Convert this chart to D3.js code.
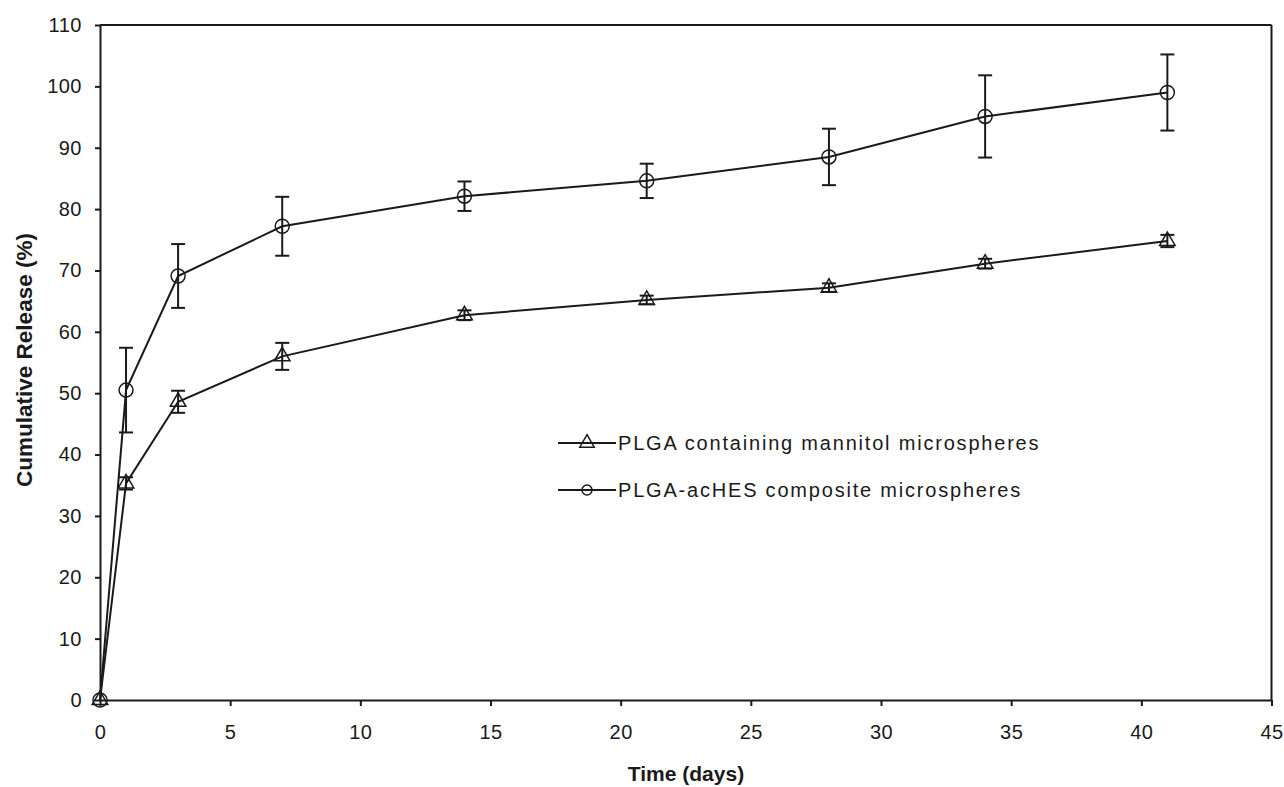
<!DOCTYPE html>
<html><head><meta charset="utf-8">
<script src="https://cdn.jsdelivr.net/npm/d3@7"></script>
<style>body{margin:0;background:#fff}svg{display:block}text{font-family:Arial,"Liberation Sans",sans-serif}</style>
</head><body><svg id="c" width="1284" height="787"></svg>
<script>
const days = [0, 1, 3, 7, 14, 21, 28, 34, 41];
const mannitolValues = [0, 35.3, 48.6, 56.0, 62.7, 65.2, 67.2, 71.1, 74.8];
const mannitolErrors = [0, 1.0, 1.8, 2.2, 0.8, 0.7, 0.7, 0.8, 1.0];
const achesValues = [0, 50.5, 69.1, 77.2, 82.1, 84.6, 88.5, 95.1, 99.0];
const achesErrors = [0, 6.9, 5.2, 4.8, 2.4, 2.8, 4.6, 6.7, 6.2];
const seriesNames = ["PLGA containing mannitol microspheres", "PLGA-acHES composite microspheres"];
const xTicks = [0, 5, 10, 15, 20, 25, 30, 35, 40, 45];
const yTicks = [0, 10, 20, 30, 40, 50, 60, 70, 80, 90, 100, 110];

const svg = d3.select("#c");
const L = 100, R = 1271.5, T = 25, B = 700;
const x = d3.scaleLinear().domain([0, 45]).range([L, R]);
const y = d3.scaleLinear().domain([0, 110]).range([B, T]);
const INK = "#1a1a1a";

svg.append("line").attr("x1", L).attr("x2", R).attr("y1", T).attr("y2", T).attr("stroke", INK).attr("stroke-width", 2);
svg.append("line").attr("x1", R).attr("x2", R).attr("y1", T).attr("y2", B).attr("stroke", INK).attr("stroke-width", 2);

const yAxis = svg.append("g").attr("transform", `translate(${L},0)`)
  .call(d3.axisLeft(y).tickValues(yTicks).tickSize(5).tickPadding(13).tickSizeOuter(0));
const xAxis = svg.append("g").attr("transform", `translate(0,${B})`)
  .call(d3.axisBottom(x).tickValues(xTicks).tickSize(6).tickPadding(20).tickSizeOuter(0));
[yAxis, xAxis].forEach(g => {
  g.attr("font-size", null).attr("font-family", null);
  g.select(".domain").attr("stroke", INK).attr("stroke-width", 2);
  g.selectAll(".tick line").attr("stroke", INK).attr("stroke-width", 2);
  g.selectAll(".tick text").attr("fill", INK).style("font-size", "20px").style("letter-spacing", "0.5px");
});
xAxis.selectAll(".tick text").attr("dy", null).attr("y", 39);

svg.append("text").attr("x", 686).attr("y", 781).attr("text-anchor", "middle")
  .style("font-size", "21px").style("font-weight", "bold").attr("fill", INK).text("Time (days)");
svg.append("text").attr("transform", "translate(32,360) rotate(-90)").attr("text-anchor", "middle")
  .style("font-size", "22.5px").style("font-weight", "bold").attr("fill", INK).text("Cumulative Release (%)");

const tri = d3.symbol().type(d3.symbolTriangle).size(105);
const triSmall = d3.symbol().type(d3.symbolTriangle).size(90);
function drawSeries(vals, errs, shape) {
  const g = svg.append("g");
  const data = days.map((d, i) => ({d, v: vals[i], e: errs[i]}));
  g.append("path").datum(data).attr("fill", "none").attr("stroke", INK).attr("stroke-width", 2)
    .attr("d", d3.line().x(p => x(p.d)).y(p => y(p.v)));
  data.filter(p => p.e > 0).forEach(p => {
    const cx = x(p.d), y1 = y(p.v + p.e), y2 = y(p.v - p.e);
    g.append("line").attr("x1", cx).attr("x2", cx).attr("y1", y1).attr("y2", y2).attr("stroke", INK).attr("stroke-width", 2);
    [y1, y2].forEach(yy => g.append("line").attr("x1", cx - 7).attr("x2", cx + 7).attr("y1", yy).attr("y2", yy).attr("stroke", INK).attr("stroke-width", 2));
  });
  data.forEach(p => {
    if (shape === "tri") g.append("path").attr("d", tri).attr("transform", `translate(${x(p.d)},${y(p.v)})`)
      .attr("fill", "none").attr("stroke", INK).attr("stroke-width", 1.5);
    else g.append("circle").attr("cx", x(p.d)).attr("cy", y(p.v)).attr("r", 7)
      .attr("fill", "none").attr("stroke", INK).attr("stroke-width", 1.5);
  });
}
drawSeries(mannitolValues, mannitolErrors, "tri");
drawSeries(achesValues, achesErrors, "circ");

const legY = [443, 490];
seriesNames.forEach((name, i) => {
  const g = svg.append("g");
  g.append("line").attr("x1", 558).attr("x2", 616).attr("y1", legY[i]).attr("y2", legY[i]).attr("stroke", INK).attr("stroke-width", 2);
  if (i === 0) g.append("path").attr("d", triSmall).attr("transform", `translate(587,${legY[i]})`).attr("fill", "none").attr("stroke", INK).attr("stroke-width", 1.5);
  else g.append("circle").attr("cx", 587).attr("cy", legY[i]).attr("r", 5).attr("fill", "none").attr("stroke", INK).attr("stroke-width", 1.5);
  g.append("text").attr("x", 618).attr("y", legY[i] + 7).style("font-size", "20px").style("letter-spacing", "1.8px").attr("fill", INK).text(name);
});
</script></body></html>
